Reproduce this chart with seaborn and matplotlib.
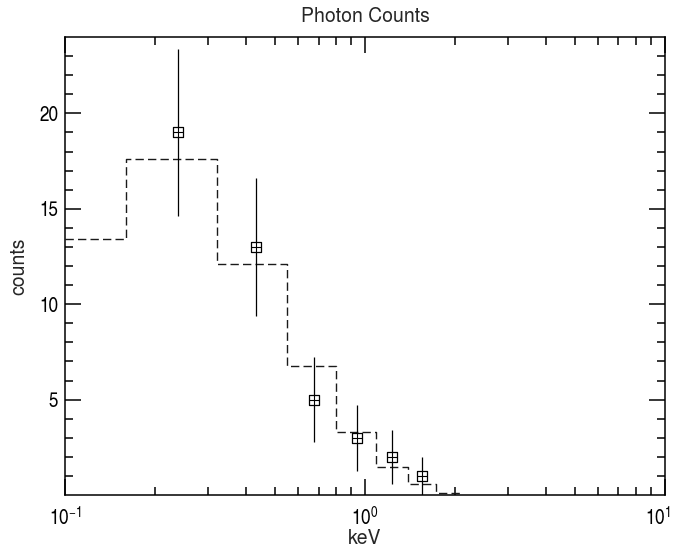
import numpy as np
import pandas as pd
import matplotlib
matplotlib.use("Agg")
import matplotlib.pyplot as plt
import matplotlib.transforms as mtransforms
import seaborn as sns
from matplotlib.ticker import FixedLocator, NullFormatter, LogFormatterSciNotation

# ---- data ----
energy_keV = [0.2386, 0.4332, 0.6776, 0.9404, 1.2303, 1.555]
counts = [19, 13, 5, 3, 2, 1]
count_err = [4.36, 3.61, 2.24, 1.73, 1.41, 1.0]

model_edges = [0.1, 0.160, 0.320, 0.55, 0.80, 1.085, 1.388, 1.725, 2.10]
model_levels = [13.4, 17.6, 12.1, 6.75, 3.3, 1.45, 0.55, 0.12]

title = "Photon Counts"
xlabel = "keV"
ylabel = "counts"
x_major_ticks = [0.1, 1, 10]
x_minor_ticks = [0.2, 0.3, 0.4, 0.5, 0.6, 0.7, 0.8, 0.9, 2, 3, 4, 5, 6, 7, 8, 9]
y_major_ticks = [5, 10, 15, 20]
y_minor_ticks = [1, 2, 3, 4, 6, 7, 8, 9, 11, 12, 13, 14, 16, 17, 18, 19, 21, 22, 23]

sns.set_style("ticks")
plt.rcParams['font.family'] = ['TeX Gyre Heros Cn', 'DejaVu Sans']
plt.rcParams['mathtext.fontset'] = 'custom'
plt.rcParams['mathtext.rm'] = 'TeX Gyre Heros Cn'
plt.rcParams['mathtext.it'] = 'TeX Gyre Heros Cn'
plt.rcParams['mathtext.bf'] = 'TeX Gyre Heros Cn'
label_family = ['TeX Gyre Heros', 'DejaVu Sans']

fig = plt.figure(figsize=(6.73, 5.53), dpi=100)
ax = fig.add_axes([0.0966, 0.1049, 0.8914, 0.8281])

# step model (dashed)
step_df = pd.DataFrame({"x": model_edges, "y": model_levels + [model_levels[-1]]})
sns.lineplot(data=step_df, x="x", y="y", ax=ax, drawstyle="steps-post",
             color="#1a1a1a", linewidth=1.0, linestyle=(0, (6, 3)), sort=False,
             estimator=None)

# data points with error bars
ax.errorbar(energy_keV, counts, yerr=count_err, fmt="none", ecolor="black",
            elinewidth=0.9, capsize=0)
pts = pd.DataFrame({"x": energy_keV, "y": counts})
sns.scatterplot(data=pts, x="x", y="y", ax=ax, marker="s", s=50,
                facecolor="white", edgecolor="black", linewidth=0.9, zorder=5)
sns.scatterplot(data=pts, x="x", y="y", ax=ax, marker="+", s=50,
                color="black", linewidth=0.8, zorder=6)

ax.set_xscale("log")
ax.set_xlim(0.1, 10)
ax.set_ylim(0, 24)

ax.xaxis.set_major_locator(FixedLocator(x_major_ticks))
ax.xaxis.set_major_formatter(LogFormatterSciNotation())
ax.xaxis.set_minor_locator(FixedLocator(x_minor_ticks))
ax.xaxis.set_minor_formatter(NullFormatter())
ax.yaxis.set_major_locator(FixedLocator(y_major_ticks))
ax.yaxis.set_minor_locator(FixedLocator(y_minor_ticks))

ax.tick_params(which="both", direction="in", top=True, right=True,
               width=1.1, colors="black", labelsize=15)
ax.tick_params(which="major", length=11.5)
ax.tick_params(which="minor", length=6)
ax.tick_params(axis="x", which="major", pad=8)
ax.tick_params(axis="y", which="major", pad=5)

# shift the rightmost x tick label slightly inward, as in the reference
last_tick = ax.xaxis.get_major_ticks()[-1]
last_tick.label1.set_transform(last_tick.label1.get_transform() +
                               mtransforms.ScaledTranslation(-0.07, 0, fig.dpi_scale_trans))

for sp in ax.spines.values():
    sp.set_linewidth(1.1)
    sp.set_color("black")

ax.set_title(title, fontsize=14, pad=11, family=label_family)
ax.set_xlabel(xlabel, fontsize=14, labelpad=0, family=label_family)
ax.set_ylabel(ylabel, fontsize=14, labelpad=8, family=label_family)

fig.savefig("out.png", dpi=100)
